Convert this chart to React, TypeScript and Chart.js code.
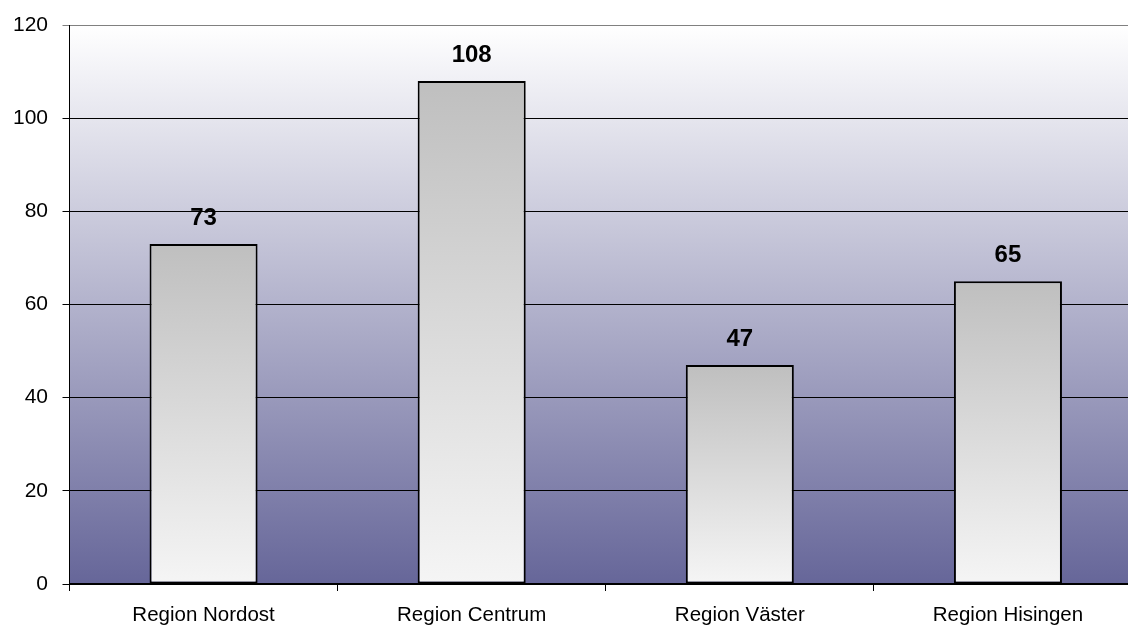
import React, { useEffect, useRef } from "react";
import { Chart, registerables } from "chart.js";

Chart.register(...registerables);

const categories = ["Region Nordost", "Region Centrum", "Region Väster", "Region Hisingen"];
const values = [73, 108, 47, 65];
const yTicks = [0, 20, 40, 60, 80, 100, 120];

const FONT = "'Liberation Sans', Arial, sans-serif";

const bgPlugin = {
  id: "plotBg",
  beforeDraw(chart: any) {
    const { ctx, chartArea } = chart;
    if (!chartArea) return;
    const g = ctx.createLinearGradient(0, chartArea.top, 0, chartArea.bottom);
    g.addColorStop(0, "#ffffff");
    g.addColorStop(1, "#666699");
    ctx.save();
    ctx.fillStyle = g;
    ctx.fillRect(chartArea.left, chartArea.top, chartArea.right - chartArea.left, chartArea.bottom - chartArea.top);
    ctx.restore();
  },
};

const labelPlugin = {
  id: "valueLabels",
  afterDatasetsDraw(chart: any) {
    const { ctx } = chart;
    const meta = chart.getDatasetMeta(0);
    ctx.save();
    ctx.font = `bold 24px ${FONT}`;
    ctx.fillStyle = "#000";
    ctx.textAlign = "center";
    ctx.textBaseline = "alphabetic";
    meta.data.forEach((bar: any, i: number) => {
      ctx.fillText(String(values[i]), bar.x, bar.y - 19);
    });
    ctx.restore();
  },
};

export default function App() {
  const ref = useRef<HTMLCanvasElement>(null);
  useEffect(() => {
    if (!ref.current) return;
    const chart = new Chart(ref.current, {
      type: "bar",
      data: {
        labels: categories,
        datasets: [
          {
            data: values,
            backgroundColor: (c: any) => {
              const ch = c.chart;
              const ys = ch.scales?.y;
              if (!ys || !c.parsed) return "#d0d0d0";
              const top = ys.getPixelForValue(c.parsed.y);
              const bottom = ys.getPixelForValue(0);
              if (!isFinite(top) || !isFinite(bottom)) return "#d0d0d0";
              const g = ch.ctx.createLinearGradient(0, top, 0, bottom);
              g.addColorStop(0, "#bfbfbf");
              g.addColorStop(1, "#f5f5f5");
              return g;
            },
            borderColor: "#000",
            borderWidth: 2,
            borderSkipped: false,
            barPercentage: 0.403,
            categoryPercentage: 1,
          },
        ],
      },
      options: {
        responsive: false,
        animation: false,
        devicePixelRatio: 1,
        layout: { padding: { top: 25, left: 0, right: 0, bottom: 0 } },
        plugins: { legend: { display: false }, tooltip: { enabled: false } },
        scales: {
          x: {
            offset: true,
            afterFit: (s: any) => {
              s.height = 42;
            },
            grid: {
              offset: true,
              drawOnChartArea: false,
              drawTicks: true,
              tickLength: 7,
              color: "#000",
            },
            border: { color: "#000", width: 2 },
            ticks: { color: "#000", font: { family: FONT, size: 20.5 }, padding: 12, maxRotation: 0 },
          },
          y: {
            min: 0,
            max: 120,
            afterFit: (s: any) => {
              s.width = 69.5;
              s.paddingTop = 0;
              s.paddingBottom = 0;
            },
            afterBuildTicks: (s: any) => {
              s.ticks = yTicks.map((v) => ({ value: v }));
            },
            grid: {
              color: (c: any) => (c.tick && c.tick.value === 120 ? "#808080" : "#000"),
              tickLength: 7,
              drawTicks: true,
            },
            border: { color: "#000", width: 1 },
            ticks: { color: "#000", font: { family: FONT, size: 21 }, padding: 14.5 },
          },
        },
      },
      plugins: [bgPlugin, labelPlugin],
    });
    chart.update();
    return () => chart.destroy();
  }, []);
  return (
    <div style={{ position: "fixed", left: 0, top: 0, width: 1128, height: 626, overflow: "hidden", background: "#fff" }}>
      <canvas ref={ref} width={1142} height={626} style={{ display: "block" }} />
    </div>
  );
}
